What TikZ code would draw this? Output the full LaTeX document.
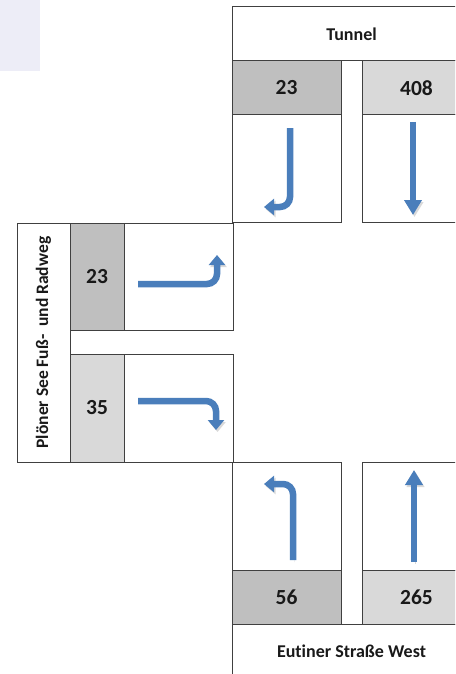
\documentclass[tikz,border=0pt]{standalone}
\usepackage{fontspec}
\setmainfont{Carlito}[Ligatures=NoCommon]
\usetikzlibrary{positioning}
\usetikzlibrary{arrows.meta}
\definecolor{mblue}{RGB}{74,126,187}
\definecolor{mdark}{RGB}{191,191,191}
\definecolor{mlight}{RGB}{217,217,217}
\definecolor{mline}{RGB}{64,64,64}
\definecolor{mlavender}{RGB}{237,237,247}

\begin{document}
\begin{tikzpicture}[x=1pt, y=-1pt,
    box/.style={draw=mline, line width=1pt, inner sep=0pt, outer sep=0pt, text=black!90, font=\bfseries\fontsize{18}{20}\selectfont},
    roadbox/.style={box, minimum width=239pt, minimum height=54pt},
    countbox/.style={box, minimum width=109pt, minimum height=54pt, font=\bfseries\fontsize{21.5}{24}\selectfont},
    darkcount/.style={countbox, fill=mdark},
    lightcount/.style={countbox, fill=mlight},
    lanebox/.style={box, minimum width=109pt, minimum height=107pt},
    turn/.style={draw=mblue, line width=6.5pt, rounded corners=10pt, -{Triangle[width=16pt,length=10pt]},
        preaction={draw=black!15, transform canvas={shift={(1.5pt,-2pt)}}}},
    straight/.style={turn, -{Triangle[width=17pt,length=15pt]}},
]
\path[use as bounding box, clip] (0,0) rectangle (455,674);
\fill[mlavender] (0,0) rectangle (40,71);

\node[roadbox, anchor=north west] (tunnel) at (232,7) {Tunnel};
\node[darkcount, anchor=north west] (tunLcnt) at (tunnel.south west) {23};
\node[lightcount, anchor=north east] (tunRcnt) at (tunnel.south east) {408};
\node[lanebox, below=0pt of tunLcnt] (tunLlane) {};
\node[lanebox, below=0pt of tunRcnt] (tunRlane) {};

\node[box, minimum width=53pt, minimum height=239pt, font=\bfseries\fontsize{17.5}{20}\selectfont, anchor=north west] (ploener) at (17,223) {\rotatebox{90}{Plöner See Fuß-~ und Radweg}};
\node[darkcount, minimum width=54pt, minimum height=107pt, anchor=north west] (ploUcnt) at (ploener.north east) {23};
\node[lightcount, minimum width=54pt, minimum height=108pt, anchor=south west] (ploLcnt) at (ploener.south east) {35};
\node[lanebox, right=0pt of ploUcnt] (ploUlane) {};
\node[lanebox, minimum height=108pt, right=0pt of ploLcnt] (ploLlane) {};

\node[roadbox, anchor=north west] (eutiner) at (232,624) {Eutiner Straße West};
\node[darkcount, anchor=south west] (eutLcnt) at (eutiner.north west) {56};
\node[lightcount, anchor=south east] (eutRcnt) at (eutiner.north east) {265};
\node[lanebox, minimum height=108pt, above=0pt of eutLcnt] (eutLlane) {};
\node[lanebox, minimum height=108pt, above=0pt of eutRcnt] (eutRlane) {};

\draw[turn] ([shift={(3.5,-40.5)}]tunLlane.center) |- ([shift={(-22.5,38.5)}]tunLlane.center);
\draw[straight] ([shift={(-3.5,-46.5)}]tunRlane.center) -- ([shift={(-3.5,46.5)}]tunRlane.center);
\draw[turn] ([shift={(-40.5,7.5)}]ploUlane.center) -| ([shift={(38.5,-21.5)}]ploUlane.center);
\draw[turn] ([shift={(-40.5,-7)}]ploLlane.center) -| ([shift={(37.5,22)}]ploLlane.center);
\draw[turn] ([shift={(6.5,44)}]eutLlane.center) |- ([shift={(-22.5,-32)}]eutLlane.center);
\draw[straight] ([shift={(-2.5,46)}]eutRlane.center) -- ([shift={(-2.5,-46)}]eutRlane.center);
\end{tikzpicture}
\end{document}
